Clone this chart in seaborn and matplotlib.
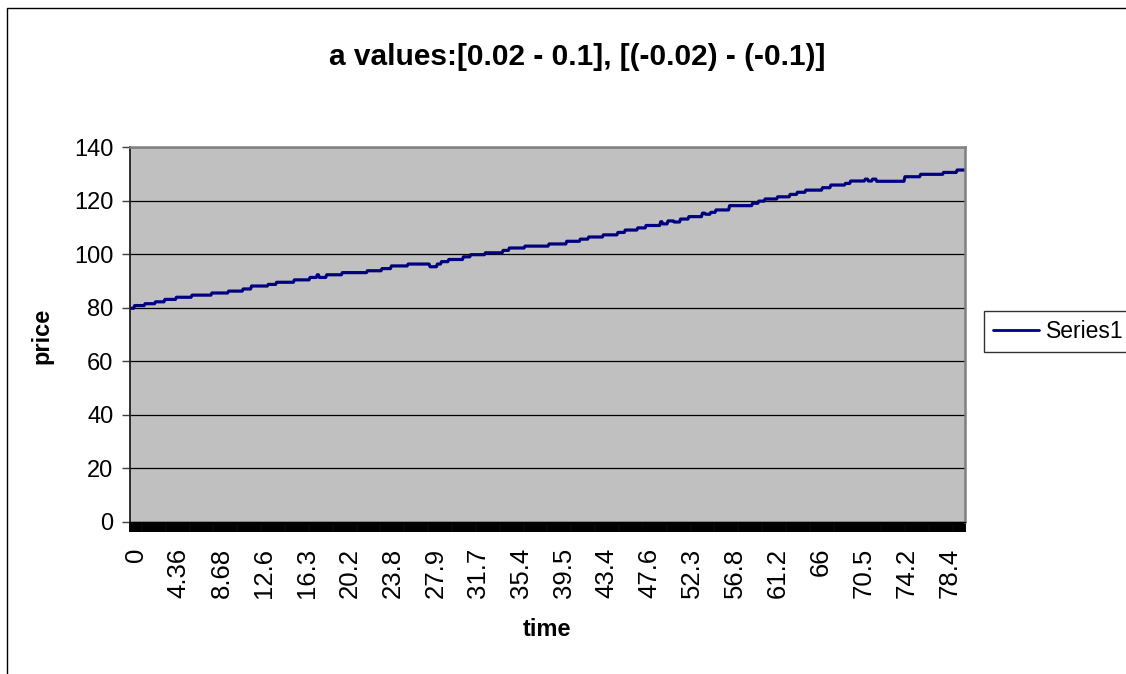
import numpy as np
import pandas as pd
import matplotlib
matplotlib.use("Agg")
import matplotlib.pyplot as plt
from matplotlib.patches import Rectangle
from matplotlib.ticker import FixedLocator
from matplotlib.transforms import ScaledTranslation
import seaborn as sns

# number of samples on the category (time) axis
n_samples = 800

# price levels: index of the first sample at each level, and the level itself
step_start = [0, 4, 14, 24, 33, 44, 59, 78, 94, 108, 116, 132, 140, 157, 172,
              179, 181, 188, 203, 227, 241, 250, 266, 287, 294, 298, 305, 319,
              326, 340, 357, 363, 378, 401, 418, 431, 439, 453, 467, 474, 486,
              494, 508, 510, 515, 521, 527, 535, 548, 551, 556, 561, 574, 596,
              602, 608, 620, 632, 639, 647, 663, 671, 685, 690, 704, 707, 711,
              715, 742, 757, 779, 792]
step_price = [79.8, 80.8, 81.5, 82.2, 83.1, 83.9, 84.7, 85.5, 86.2, 87.0, 88.1,
              88.7, 89.5, 90.4, 91.3, 92.3, 91.3, 92.3, 93.1, 93.8, 94.6, 95.6,
              96.3, 95.3, 96.3, 97.2, 98.0, 99.0, 99.8, 100.5, 101.4, 102.3,
              103.0, 103.8, 104.8, 105.6, 106.4, 107.2, 108.1, 109.0, 109.8,
              110.7, 112.1, 111.3, 112.4, 112.0, 113.1, 114.0, 115.3, 114.9,
              115.6, 116.5, 118.1, 119.0, 119.8, 120.6, 121.4, 122.3, 123.1,
              123.9, 124.8, 125.8, 126.4, 127.3, 128.0, 127.3, 128.0, 127.2,
              128.9, 129.8, 130.5, 131.4]

# time labels shown on every 41st sample
label_step = 41
time_labels = ["0", "4.36", "8.68", "12.6", "16.3", "20.2", "23.8", "27.9",
               "31.7", "35.4", "39.5", "43.4", "47.6", "52.3", "56.8", "61.2",
               "66", "70.5", "74.2", "78.4"]

y_ticks = [0, 20, 40, 60, 80, 100, 120, 140]

title = "a values:[0.02 - 0.1], [(-0.02) - (-0.1)]"

# ---------------------------------------------------------------------------
run_lengths = np.diff(step_start + [n_samples])
price = np.repeat(step_price, run_lengths)
df = pd.DataFrame({"sample": np.arange(n_samples), "price": price})

sns.set_style("white")
plt.rcParams["font.family"] = ["Liberation Sans", "DejaVu Sans"]
plt.rcParams["text.color"] = "black"
plt.rcParams["xtick.color"] = "black"
plt.rcParams["ytick.color"] = "black"
plt.rcParams["xtick.labelcolor"] = "black"
plt.rcParams["ytick.labelcolor"] = "black"

W, H = 1126, 674
fig = plt.figure(figsize=(W / 100, H / 100), dpi=100)
fig.patch.set_facecolor("white")

left, right, top, bottom = 130, 965, 147, 522
ax = fig.add_axes([left / W, 1 - bottom / H, (right - left) / W, (bottom - top) / H])
ax.set_facecolor("#C0C0C0")

sns.lineplot(data=df, x="sample", y="price", ax=ax, color="#000080",
             linewidth=2.3, label="Series1")

ax.set_xlim(-0.5, n_samples - 0.5)
ax.set_ylim(0, 140)

# y axis
ax.set_yticks(y_ticks)
ax.set_yticklabels([str(v) for v in y_ticks])
ax.tick_params(axis="y", which="major", direction="out", length=6, width=1,
               color="#404040", pad=6, labelsize=17, left=True,
               labelcolor="black")
ax.yaxis.grid(True, color="black", linewidth=0.9)
ax.xaxis.grid(False)

# x axis: a tick between every pair of samples, labels every label_step
label_idx = [i * label_step for i in range(len(time_labels))]
ax.set_xticks(label_idx)
ax.set_xticklabels(time_labels, rotation=90, ha="center", va="top")
ax.xaxis.set_minor_locator(FixedLocator(np.arange(-0.5, n_samples, 1.0)))
ax.tick_params(axis="x", which="minor", direction="out", length=7, width=1.4,
               color="black", bottom=True)
ax.tick_params(axis="x", which="major", direction="out", length=7, width=1.4,
               color="black", pad=11.5, labelsize=18.5, bottom=True,
               labelcolor="black")
shift = ScaledTranslation(4 / 72, 0, fig.dpi_scale_trans)
for lbl in ax.get_xticklabels():
    lbl.set_transform(lbl.get_transform() + shift)

ax.set_xlabel("")
ax.set_ylabel("")

for side in ("top", "right"):
    ax.spines[side].set_color("#808080")
    ax.spines[side].set_linewidth(1.8)
ax.spines["left"].set_color("#202020")
ax.spines["left"].set_linewidth(1.3)
ax.spines["bottom"].set_color("black")
ax.spines["bottom"].set_linewidth(1.0)

# titles
fig.text(577 / W, 1 - 57 / H, title, ha="center", va="center",
         fontsize=21.5, fontweight="bold", color="black")
fig.text(42 / W, 1 - 336 / H, "price", ha="center", va="center",
         rotation=90, fontsize=17, fontweight="bold", color="black")
fig.text(547 / W, 1 - 629 / H, "time", ha="center", va="center",
         fontsize=17, fontweight="bold", color="black")

# legend
leg = ax.legend(loc="upper left", bbox_to_anchor=(984 / W, 1 - 311 / H),
                bbox_transform=fig.transFigure, frameon=True, fancybox=False,
                edgecolor="black", borderaxespad=0, fontsize=16.5,
                handlelength=2.0, handletextpad=0.3, borderpad=0.4,
                labelcolor="black")
leg.get_frame().set_linewidth(1.0)
leg.get_frame().set_facecolor("white")
for line in leg.get_lines():
    line.set_linewidth(2.0)

# chart area border
fig.patches.append(Rectangle((7 / W, -0.2), 1.2, (H - 8) / H + 0.2,
                             transform=fig.transFigure, fill=False,
                             edgecolor="black", linewidth=1.0))

fig.savefig("out.png", dpi=100, facecolor="white")
